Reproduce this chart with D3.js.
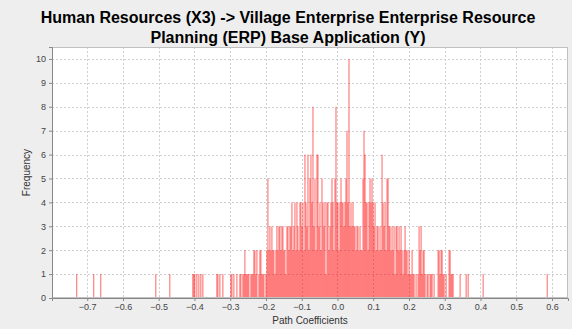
<!DOCTYPE html>
<html>
<head>
<meta charset="utf-8">
<script src="https://cdn.jsdelivr.net/npm/d3@7/dist/d3.min.js"></script>
<style>
  html, body { margin: 0; padding: 0; background: #eeeeee; }
  svg { display: block; }
  text { font-family: "Liberation Sans", Arial, sans-serif; }
</style>
</head>
<body>
<svg id="chart" width="572" height="329"></svg>
<script>
// Bootstrap distribution of the path coefficient, binned histogram.
const titleLines = [
  "Human Resources (X3) -> Village Enterprise Enterprise Resource",
  "Planning (ERP) Base Application (Y)"
];
const xLabel = "Path Coefficients";
const yLabel = "Frequency";

const binWidth = 0.0028;

// Contiguous run of bins starting at coreStart (one count per bin).
const coreStart = -0.2744;
const coreCounts = [
  1,1,0,1,1,2,1,1,1,1,0,1,1,1,2,2,1,2,0,1,2,2,1,1,1,0,1,2,5,2,
  3,2,3,2,2,1,2,3,2,3,3,2,3,3,2,2,1,3,3,2,3,3,4,2,3,4,2,4,3,2,
  4,4,3,4,2,6,4,3,6,2,5,6,4,8,3,5,2,6,6,3,4,2,5,4,3,4,1,4,4,2,
  3,4,5,4,2,5,8,4,4,2,4,5,4,4,3,4,5,7,4,10,3,4,3,4,3,3,2,3,3,2,
  3,2,2,5,7,6,4,4,2,4,5,4,5,4,3,4,2,3,3,2,3,2,6,4,3,4,2,5,5,3,
  3,2,3,2,3,1,3,3,2,3,2,3,2,1,2,3,2,2,1,2,1,1,2,1,1,0,1,0,1,3,
  2,3,1,2,2,1,0,1,1,0,1,1,1,0,1,0,0,0,2,2,1,2,2,1,1,0,1,0,0,2,
  2,1,1,1
];

// Isolated outlying bins (one observation each).
const tailCoefficients = [
  -0.7308, -0.6832, -0.6636, -0.5096, -0.4704,
  -0.4060, -0.4032, -0.4004, -0.3948, -0.3892, -0.3836, -0.3780,
  -0.3388, -0.3360, -0.3304, -0.3220,
  -0.2996, -0.2968, -0.2912, -0.2828,
  0.3416, 0.3584, 0.3640, 0.4060, 0.5852
];

const xTicks = [-0.7, -0.6, -0.5, -0.4, -0.3, -0.2, -0.1, 0.0, 0.1, 0.2, 0.3, 0.4, 0.5, 0.6];
const yTicks = [0, 1, 2, 3, 4, 5, 6, 7, 8, 9, 10];
const xDomain = [-0.7986, 0.6448];
const yDomain = [0, 10.5];

// Assemble bins
const bins = [];
coreCounts.forEach((c, i) => {
  if (c > 0) bins.push({ x0: coreStart + i * binWidth, count: c });
});
tailCoefficients.forEach(v => bins.push({ x0: v, count: 1 }));

const svg = d3.select("#chart");
const W = 572, H = 329;
const plot = { left: 52, right: 568, top: 47, bottom: 298 };

svg.append("rect").attr("width", W).attr("height", H).attr("fill", "#eeeeee");

const x = d3.scaleLinear().domain(xDomain).range([plot.left, plot.right]);
const y = d3.scaleLinear().domain(yDomain).range([plot.bottom, plot.top]);

// Plot background
svg.append("rect")
  .attr("x", plot.left).attr("y", plot.top)
  .attr("width", plot.right - plot.left).attr("height", plot.bottom - plot.top)
  .attr("fill", "#ffffff");

// Grid lines
const grid = svg.append("g").attr("stroke", "#cfcfcf").attr("stroke-width", 1)
  .attr("stroke-dasharray", "2,2");
grid.selectAll(".vg").data(xTicks).join("line")
  .attr("x1", d => Math.round(x(d)) + 0.5).attr("x2", d => Math.round(x(d)) + 0.5)
  .attr("y1", plot.top).attr("y2", plot.bottom);
grid.selectAll(".hg").data(yTicks.filter(d => d > 0)).join("line")
  .attr("y1", d => Math.round(y(d)) + 0.5).attr("y2", d => Math.round(y(d)) + 0.5)
  .attr("x1", plot.left).attr("x2", plot.right);

// Bars
svg.append("g").selectAll("rect").data(bins).join("rect")
  .attr("x", d => x(d.x0))
  .attr("width", d => x(d.x0 + binWidth) - x(d.x0))
  .attr("y", d => y(d.count))
  .attr("height", d => y(0) - y(d.count))
  .attr("fill", "#ff0000")
  .attr("fill-opacity", 0.6);

// Plot outline
svg.append("rect")
  .attr("x", plot.left + 0.5).attr("y", plot.top + 0.5)
  .attr("width", plot.right - plot.left - 1).attr("height", plot.bottom - plot.top - 1)
  .attr("fill", "none").attr("stroke", "#c0c0c0");

// Axes
const xAxis = d3.axisBottom(x).tickValues(xTicks).tickSize(3).tickPadding(3)
  .tickFormat(d3.format(".1f"));
const gx = svg.append("g").attr("transform", `translate(0,${plot.bottom})`).call(xAxis);
const yAxis = d3.axisLeft(y).tickValues(yTicks).tickSize(3).tickPadding(3)
  .tickFormat(d3.format("d"));
const gy = svg.append("g").attr("transform", `translate(${plot.left},0)`).call(yAxis);

[gx, gy].forEach(g => {
  g.select(".domain").attr("stroke", "#888888");
  g.selectAll(".tick line").attr("stroke", "#888888");
  g.selectAll(".tick text")
    .attr("fill", "#444444")
    .style("font-family", "'Liberation Sans', Arial, sans-serif")
    .style("font-size", "9px");
});

// Titles
svg.append("g").selectAll("text").data(titleLines).join("text")
  .attr("x", 288)
  .attr("y", (d, i) => 23 + i * 20)
  .attr("text-anchor", "middle")
  .attr("font-weight", "bold")
  .attr("font-size", "16px")
  .attr("fill", "#000000")
  .text(d => d);

svg.append("text")
  .attr("x", (plot.left + plot.right) / 2)
  .attr("y", 324)
  .attr("text-anchor", "middle")
  .attr("font-size", "10px")
  .attr("fill", "#333333")
  .text(xLabel);

svg.append("text")
  .attr("transform", `translate(30,${(plot.top + plot.bottom) / 2}) rotate(-90)`)
  .attr("text-anchor", "middle")
  .attr("font-size", "10px")
  .attr("fill", "#333333")
  .text(yLabel);
</script>
</body>
</html>
